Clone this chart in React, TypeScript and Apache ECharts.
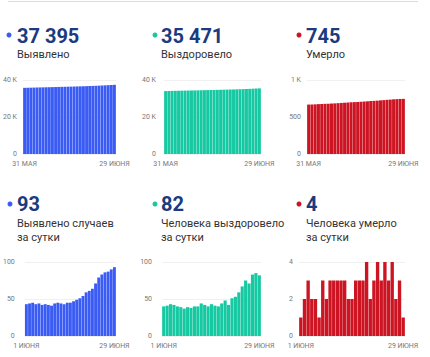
import React, { useEffect, useRef } from "react";
import * as echarts from "echarts";

// Categories
const CUM_DAYS: string[] = ["31 МАЯ", ...Array.from({ length: 29 }, (_, i) => `${i + 1} ИЮНЯ`)];
const DAILY_DAYS: string[] = Array.from({ length: 29 }, (_, i) => `${i + 1} ИЮНЯ`);

// Cumulative series (31 May – 29 June)
const detectedTotal = [35768, 35811, 35855, 35900, 35943, 35987, 36029, 36072, 36114, 36155, 36199, 36244, 36288, 36331, 36376, 36421, 36468, 36517, 36568, 36622, 36681, 36742, 36806, 36877, 36956, 37039, 37125, 37212, 37302, 37395];
const recoveredTotal = [34022, 34062, 34103, 34146, 34188, 34228, 34267, 34304, 34343, 34381, 34421, 34461, 34505, 34547, 34587, 34630, 34671, 34711, 34755, 34803, 34845, 34896, 34949, 35008, 35075, 35150, 35221, 35304, 35389, 35471];
const deathsTotal = [668, 669, 671, 674, 676, 678, 679, 682, 684, 687, 690, 693, 696, 699, 701, 703, 706, 709, 712, 716, 718, 721, 725, 728, 732, 735, 739, 741, 744, 745];

// Daily series (1 – 29 June)
const detectedDaily = [43, 44, 45, 43, 44, 42, 43, 42, 41, 44, 45, 44, 43, 45, 45, 47, 49, 51, 54, 59, 61, 64, 71, 79, 83, 86, 87, 90, 93];
const recoveredDaily = [40, 41, 43, 42, 40, 39, 37, 39, 38, 40, 40, 44, 42, 40, 43, 41, 40, 44, 48, 42, 51, 53, 59, 67, 75, 71, 83, 85, 82];
const deathsDaily = [1, 2, 3, 2, 2, 1, 3, 2, 3, 3, 3, 3, 3, 2, 2, 3, 3, 3, 4, 2, 3, 4, 3, 4, 3, 4, 2, 3, 1];

// Headlines
const headlineValues = ["37 395", "35 471", "745", "93", "82", "4"];
const headlineLabels = [["Выявлено"], ["Выздоровело"], ["Умерло"], ["Выявлено случаев", "за сутки"], ["Человека выздоровело", "за сутки"], ["Человека умерло", "за сутки"]];

const BLUE = "#3b5cf4";
const TEAL = "#17c9a2";
const RED = "#cd1422";
const NAVY = "#1b3a80";
const FONT = "Roboto, sans-serif";

export default function App() {
  const ref = useRef<HTMLDivElement>(null);
  useEffect(() => {
    if (!ref.current) return;
    const chart = echarts.init(ref.current, null, { renderer: "svg" });

    const panels = [
      { cats: CUM_DAYS, data: detectedTotal, color: BLUE, grid: { left: 19, top: 80, width: 97, height: 74 }, max: 40000, interval: 20000, fmt: (v: number) => (v === 0 ? "0" : `${v / 1000} K`), margin: 6 },
      { cats: CUM_DAYS, data: recoveredTotal, color: TEAL, grid: { left: 164, top: 80, width: 97, height: 74 }, max: 40000, interval: 20000, fmt: (v: number) => (v === 0 ? "0" : `${v / 1000} K`), margin: 8 },
      { cats: CUM_DAYS, data: deathsTotal, color: RED, grid: { left: 307, top: 80, width: 98, height: 74 }, max: 1000, interval: 500, fmt: (v: number) => (v === 1000 ? "1 K" : `${v}`), margin: 6 },
      { cats: DAILY_DAYS, data: detectedDaily, color: BLUE, grid: { left: 17, top: 262, width: 99, height: 74 }, max: 100, interval: 50, fmt: (v: number) => `${v}`, margin: 10 },
      { cats: DAILY_DAYS, data: recoveredDaily, color: TEAL, grid: { left: 162, top: 262, width: 99, height: 74 }, max: 100, interval: 50, fmt: (v: number) => `${v}`, margin: 10 },
      { cats: DAILY_DAYS, data: deathsDaily, color: RED, grid: { left: 299, top: 262, width: 106, height: 74 }, max: 4, interval: 2, fmt: (v: number) => `${v}`, margin: 6 },
    ];

    const heads = [
      { dot: [9, 35], x: 17, y: 35.5, ly: 54 },
      { dot: [155, 35], x: 161, y: 35.5, ly: 54 },
      { dot: [299, 35], x: 306, y: 35.5, ly: 54 },
      { dot: [10, 204], x: 17, y: 203.7, ly: 223.5 },
      { dot: [155, 204], x: 161, y: 203.7, ly: 223.5 },
      { dot: [299, 204], x: 306, y: 203.7, ly: 223.5 },
    ];
    const colors = [BLUE, TEAL, RED, BLUE, TEAL, RED];

    const graphics: any[] = [
      { type: "line", shape: { x1: 8, y1: 1.5, x2: 418, y2: 1.5 }, style: { stroke: "#dcdcdc", lineWidth: 1 } },
    ];
    heads.forEach((h, i) => {
      graphics.push({ type: "circle", shape: { cx: h.dot[0], cy: h.dot[1], r: 2.5 }, style: { fill: colors[i] } });
      graphics.push({ type: "text", x: h.x, y: h.y, style: { text: headlineValues[i], font: `bold 20px ${FONT}`, fill: NAVY, verticalAlign: "middle", align: "left" } });
      headlineLabels[i].forEach((t, j) => {
        graphics.push({ type: "text", x: h.x, y: h.ly + j * 14, style: { text: t, font: `11px ${FONT}`, fill: "#333", verticalAlign: "middle", align: "left" } });
      });
    });

    chart.setOption({
      animation: false,
      grid: panels.map((p) => ({ ...p.grid, containLabel: false })),
      xAxis: panels.map((p, i) => ({
        type: "category",
        gridIndex: i,
        data: p.cats,
        axisLine: { show: false },
        axisTick: { show: false },
        axisLabel: {
          interval: (idx: number) => idx === 0 || idx === p.cats.length - 1,
          fontSize: 7,
          color: "#777",
          fontFamily: FONT,
          margin: 6,
          hideOverlap: false,
        },
      })),
      yAxis: panels.map((p, i) => ({
        type: "value",
        gridIndex: i,
        min: 0,
        max: p.max,
        interval: p.interval,
        axisLine: { show: false },
        axisTick: { show: false },
        splitLine: { lineStyle: { color: "#f0f0f0", width: 1 } },
        axisLabel: { fontSize: 7, color: "#777", fontFamily: FONT, margin: p.margin, formatter: p.fmt },
      })),
      series: panels.map((p, i) => ({
        type: "bar",
        xAxisIndex: i,
        yAxisIndex: i,
        data: p.data,
        barCategoryGap: "8%",
        itemStyle: { color: p.color },
      })),
      graphic: graphics,
    });
    return () => chart.dispose();
  }, []);
  return <div ref={ref} style={{ position: "absolute", left: 0, top: 0, width: 430, height: 357 }} />;
}
